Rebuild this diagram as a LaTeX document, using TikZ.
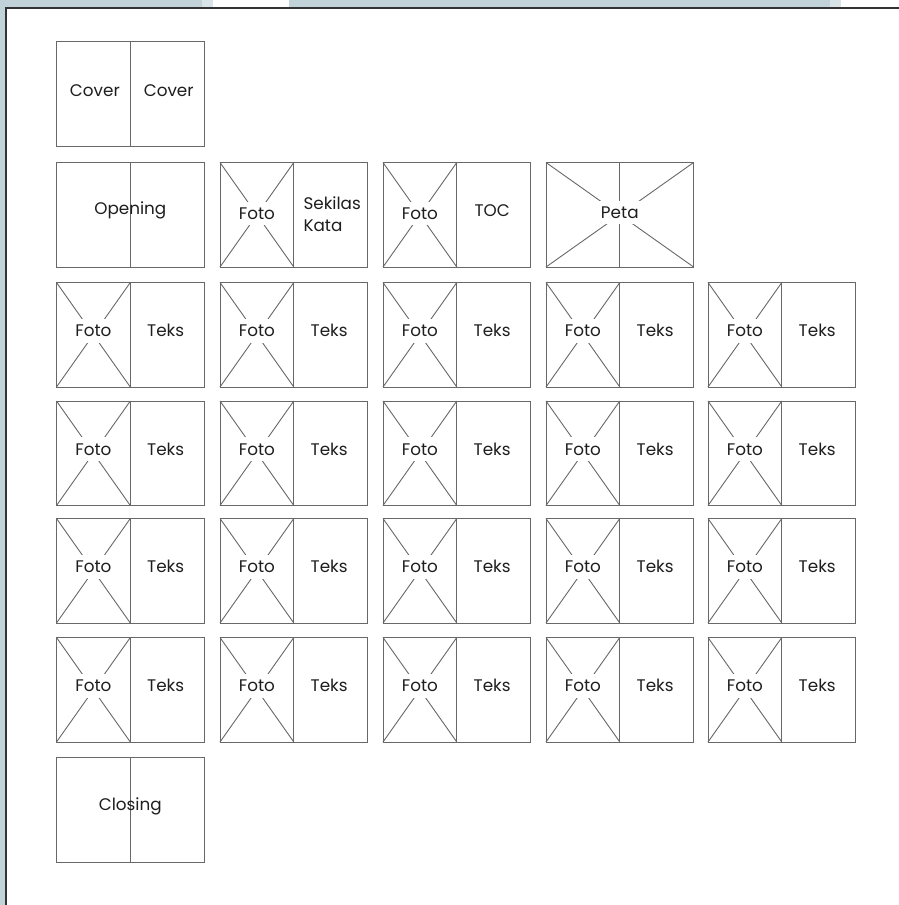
\documentclass[tikz,border=0pt]{standalone}
\usepackage{fontspec}
\setmainfont{Poppins}
\usetikzlibrary{positioning}
\definecolor{linegray}{RGB}{104,104,104}
\definecolor{ink}{RGB}{30,30,30}
\definecolor{desk}{RGB}{193,210,216}
\definecolor{deskpale}{RGB}{216,228,232}
\definecolor{framedark}{RGB}{51,51,51}

\newcommand{\labelfont}{\fontsize{16.8}{22}\selectfont}

% one spread = two pages side by side
\newcommand{\spread}[3]{%
  \node[page, anchor=north west] (#1L) at (#2,#3) {};
  \node[page, right=0pt of #1L] (#1R) {};
}
% photo placeholder cross
\newcommand{\fotocross}[1]{%
  \draw[xline] (#1.north west) -- (#1.south east)
               (#1.north east) -- (#1.south west);
}

\tikzset{
  page/.style     = {draw=linegray, line width=0.9pt, minimum width=73.8pt,
                     minimum height=104.5pt, inner sep=0pt, outer sep=0pt},
  xline/.style    = {draw=linegray, line width=0.9pt},
  pagetext/.style = {font=\labelfont, text=ink, inner sep=0pt},
  fototext/.style = {pagetext, fill=white, inner xsep=4pt, inner ysep=6pt},
}

\begin{document}
\begin{tikzpicture}[x=1pt, y=-1pt]
  \useasboundingbox (0,0) rectangle (899,905);

  % desk and sheet
  \fill[desk] (0,0) rectangle (899,905);
  \fill[deskpale] (202,0) rectangle (213,8);
  \fill[white] (213,0) rectangle (289,8);
  \fill[deskpale] (830,0) rectangle (841,8);
  \fill[white] (841,0) rectangle (899,8);
  \fill[white] (6,8) rectangle (899,905);
  \draw[framedark, line width=1.3pt] (6,905) -- (6,8) -- (899,8);

  % row 1
  \spread{cover}{56.5}{41.5}
  \node[pagetext, anchor=base] (coverleft)  at ([xshift=1.5pt, yshift=-54.5pt]coverL.north) {Cover};
  \node[pagetext, anchor=base] (coverright) at ([xshift=1.5pt, yshift=-54.5pt]coverR.north) {Cover};

  % row 2
  \spread{open}{56.5}{162.5}
  \node[pagetext, anchor=base] (opening) at ([yshift=-52pt]openL.north east) {Opening};

  \spread{sek}{220}{162.5}
  \fotocross{sekL}
  \node[fototext, anchor=base] (sekfoto) at ([yshift=-56.8pt]sekL.north) {Foto};
  \node[pagetext, anchor=west, align=left] (sekilas)
    at ([xshift=9.5pt, yshift=-51.2pt]sekR.north west) {Sekilas\\Kata};

  \spread{toc}{383}{162.5}
  \fotocross{tocL}
  \node[fototext, anchor=base] (tocfoto) at ([yshift=-56.8pt]tocL.north) {Foto};
  \node[pagetext, anchor=base] (toctext) at ([xshift=-1.5pt, yshift=-53.5pt]tocR.north) {TOC};

  \spread{peta}{546}{162.5}
  \draw[xline] (petaL.north west) -- (petaR.south east)
               (petaR.north east) -- (petaL.south west);
  \node[fototext, anchor=base] (petatext) at ([yshift=-55.8pt]petaL.north east) {Peta};

  % rows 3 to 6
  \foreach \row/\y in {3/282.5, 4/401, 5/518.5, 6/637.5} {
    \foreach \col/\x in {1/56.5, 2/220, 3/383, 4/546, 5/708} {
      \spread{r\row-\col}{\x}{\y}
      \fotocross{r\row-\col L}
      \node[fototext, anchor=base] (r\row-\col foto) at ([yshift=-54pt]r\row-\col L.north) {Foto};
      \node[pagetext, anchor=base] (r\row-\col teks) at ([xshift=-1.5pt, yshift=-54pt]r\row-\col R.north) {Teks};
    }
  }

  % row 7
  \spread{close}{56.5}{757.5}
  \node[pagetext, anchor=base] (closing) at ([yshift=-53.2pt]closeL.north east) {Closing};
\end{tikzpicture}
\end{document}
